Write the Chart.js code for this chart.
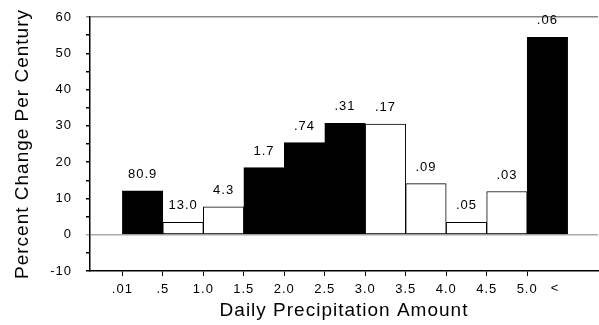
<!DOCTYPE html>
<html>
<head>
<meta charset="utf-8">
<script src="https://cdn.jsdelivr.net/npm/chart.js@4"></script>
<style>
  html, body { margin: 0; padding: 0; background: #fff; }
  #wrap { width: 599px; height: 325px; }
</style>
</head>
<body>
<div id="wrap"><canvas id="myChart"></canvas></div>
<script>
// bin boundaries shown under the x axis
const boundaryLabels = ['.01', '.5', '1.0', '1.5', '2.0', '2.5', '3.0', '3.5', '4.0', '4.5', '5.0'];
const openEndLabel = '<';
// percent change per century for each bin
const percentChange = [12.1, 3.4, 7.7, 18.5, 25.4, 30.7, 30.5, 14.1, 3.4, 11.9, 54.4];
// numbers printed above each bar
const barLabels = ['80.9', '13.0', '4.3', '1.7', '.74', '.31', '.17', '.09', '.05', '.03', '.06'];
// filled (black) or open (white) bars
const filled = [true, false, false, true, true, true, false, false, false, false, true];
const yTicks = [-10, 0, 10, 20, 30, 40, 50, 60];

const FONT = 'Arial, "Liberation Sans", sans-serif';
const OPEN_END_POS = 10.69;

const barPoints = percentChange.map((v, i) => ({ x: i + 0.5, y: v }));

// le texte de la source est un peu espacé
const spacing = {
    id: 'spacing',
    beforeDraw(chart) {
        chart.ctx.letterSpacing = '1px';
    }
};

// texte au-dessus des barres + le "<" sans trait de graduation
const valueLabels = {
    id: 'valueLabels',
    afterDatasetsDraw(chart) {
        const ctx = chart.ctx;
        const meta = chart.getDatasetMeta(0);
        ctx.save();
        ctx.letterSpacing = '1px';
        ctx.font = '13px ' + FONT;
        ctx.fillStyle = '#000';
        ctx.textAlign = 'center';
        ctx.textBaseline = 'bottom';
        meta.data.forEach((bar, i) => {
            ctx.fillText(barLabels[i], bar.x, bar.y - 10);
        });
        const xs = chart.scales.x;
        const lbl = xs.getLabelItems()[0];
        ctx.textBaseline = 'top';
        ctx.fillText(openEndLabel, xs.getPixelForValue(OPEN_END_POS), lbl ? lbl.options.translation[1] : xs.top + 11);
        ctx.restore();
    }
};

const ctx = document.getElementById('myChart').getContext('2d');
const myChart = new Chart(ctx, {
    type: 'bar',
    data: {
        datasets: [{
            data: barPoints,
            backgroundColor: filled.map(f => f ? '#000' : '#fff'),
            borderColor: '#000',
            borderWidth: 1,
            barPercentage: 1,
            categoryPercentage: 1,
            borderSkipped: false
        }]
    },
    options: {
        responsive: true,
        maintainAspectRatio: false,
        animation: false,
        layout: { padding: { top: 17, right: 1, left: 0, bottom: 0 } },
        plugins: {
            legend: { display: false },
            tooltip: { enabled: false }
        },
        scales: {
            x: {
                type: 'linear',
                offset: false,
                min: -0.8,
                max: 11.75,
                afterBuildTicks: function(scale) {
                    scale.ticks = boundaryLabels.map((l, i) => ({ value: i }));
                },
                afterFit: function(scale) {
                    scale.height = 54;
                    scale.paddingLeft = 0;
                    scale.paddingRight = 0;
                },
                ticks: {
                    autoSkip: false,
                    maxRotation: 0,
                    padding: 6,
                    color: '#000',
                    font: { family: FONT, size: 13 },
                    callback: value => boundaryLabels[value]
                },
                grid: {
                    offset: false,
                    drawOnChartArea: false,
                    drawTicks: true,
                    tickLength: 5,
                    tickColor: '#000'
                },
                border: { display: true, color: '#000', width: 1.5 },
                title: {
                    display: true,
                    text: 'Daily Precipitation Amount',
                    color: '#000',
                    font: { family: FONT, size: 19 },
                    padding: { top: 0, bottom: 3 }
                }
            },
            y: {
                min: -10,
                max: 60,
                afterBuildTicks: function(scale) {
                    const t = [];
                    for (let v = -10; v <= 60; v += 5) t.push({ value: v });
                    scale.ticks = t;
                },
                afterFit: function(scale) {
                    scale.width = 90;
                    scale.paddingTop = 0;
                    scale.paddingBottom = 0;
                },
                ticks: {
                    autoSkip: false,
                    padding: 14,
                    color: '#000',
                    font: { family: FONT, size: 13 },
                    callback: v => yTicks.includes(v) ? String(v) : ' '
                },
                grid: {
                    drawOnChartArea: true,
                    drawTicks: true,
                    tickLength: 4,
                    lineWidth: 1.5,
                    color: c => {
                        const v = c.tick && c.tick.value;
                        if (v === 60) return '#888';
                        if (v === 0) return '#aaa';
                        return 'rgba(0,0,0,0)';
                    },
                    tickColor: c => {
                        const v = c.tick && c.tick.value;
                        if (v === 60) return '#888';
                        if (v === 0) return '#aaa';
                        return '#000';
                    }
                },
                border: { display: true, color: '#000', width: 1.5 },
                title: {
                    display: true,
                    text: 'Percent Change Per Century',
                    color: '#000',
                    font: { family: FONT, size: 19 },
                    padding: { top: 11, bottom: 0 }
                }
            }
        }
    },
    plugins: [spacing, valueLabels]
});
</script>
</body>
</html>
